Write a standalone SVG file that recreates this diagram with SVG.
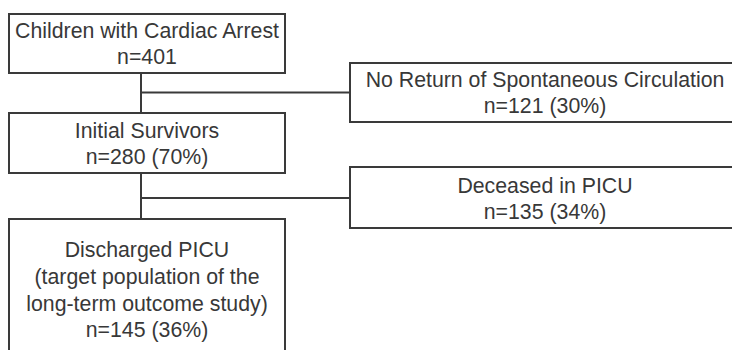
<svg xmlns="http://www.w3.org/2000/svg" width="732" height="350" viewBox="0 0 732 350">
<style>
.box{fill:#fff;stroke:#3a3a3a;stroke-width:2}
.ln{fill:none;stroke:#3a3a3a;stroke-width:2}
text{font-family:"Liberation Sans",Arial,sans-serif;font-size:21.3px;fill:#383838;text-anchor:middle}
</style>
<rect width="732" height="350" fill="#fff"/>
<g id="connectors">
<line class="ln" x1="141" y1="73" x2="141" y2="113"/>
<line class="ln" x1="141" y1="92.5" x2="350" y2="92.5"/>
<line class="ln" x1="141" y1="173" x2="141" y2="219"/>
<line class="ln" x1="141" y1="198" x2="350" y2="198"/>
</g>
<g id="n1">
<rect class="box" x="9" y="14" width="276" height="59"/>
<text x="147" y="38">Children with Cardiac Arrest</text>
<text x="147" y="64">n=401</text>
</g>
<g id="n2">
<rect class="box" x="350" y="63" width="400" height="59"/>
<text x="545" y="87">No Return of Spontaneous Circulation</text>
<text x="545" y="113">n=121 (30%)</text>
</g>
<g id="n3">
<rect class="box" x="9" y="113" width="276" height="60"/>
<text x="147" y="138">Initial Survivors</text>
<text x="147" y="164">n=280 (70%)</text>
</g>
<g id="n4">
<rect class="box" x="350" y="167" width="400" height="61"/>
<text x="545" y="193">Deceased in PICU</text>
<text x="545" y="219">n=135 (34%)</text>
</g>
<g id="n5">
<rect class="box" x="9" y="219" width="276" height="150"/>
<text x="147" y="257">Discharged PICU</text>
<text x="147" y="284">(target population of the</text>
<text x="147" y="311">long-term outcome study)</text>
<text x="147" y="337">n=145 (36%)</text>
</g>
</svg>
